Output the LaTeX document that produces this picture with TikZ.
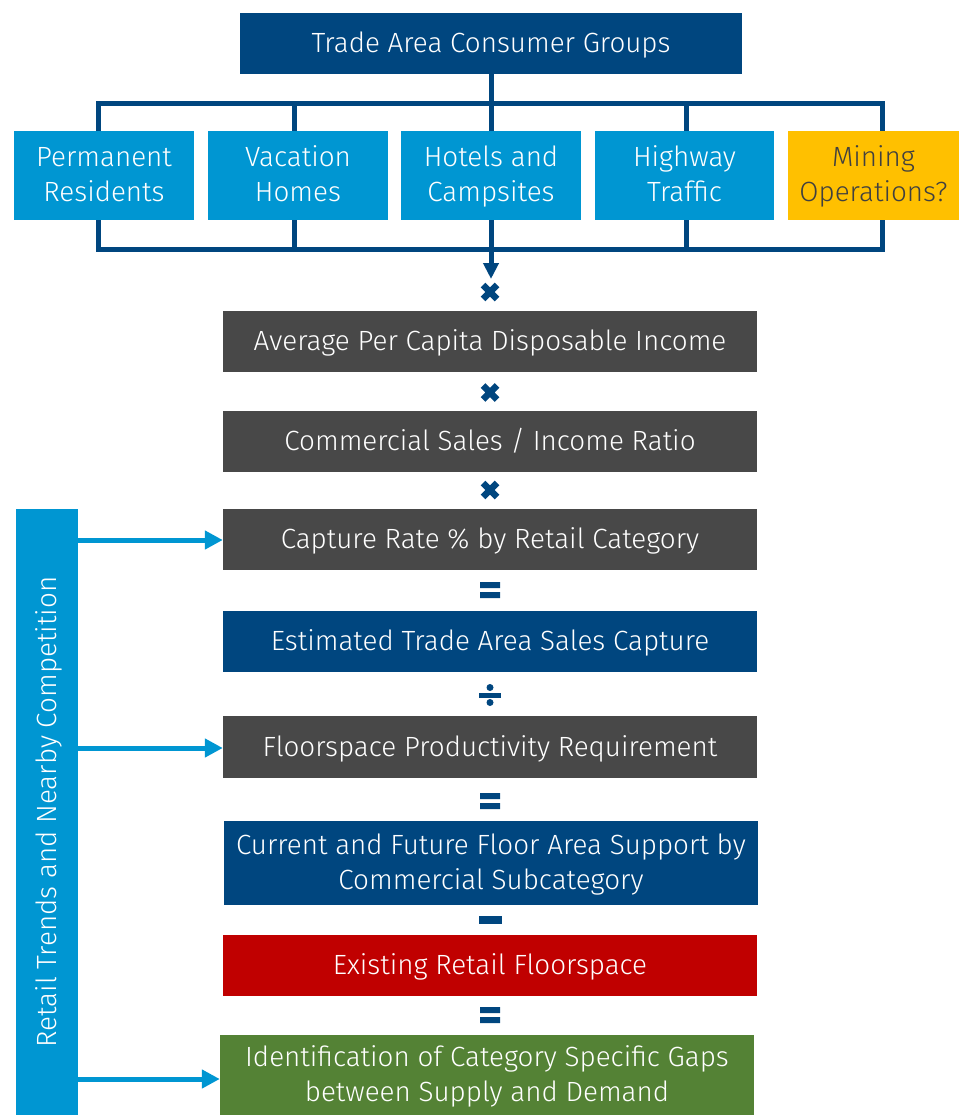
\documentclass[tikz,border=0pt]{standalone}
\usepackage{fontspec}
\setmainfont{Fira Sans}[UprightFont={* Light}]
\usetikzlibrary{arrows.meta}
\definecolor{navy}{RGB}{0,70,127}
\definecolor{sky}{RGB}{0,150,210}
\definecolor{slate}{RGB}{72,72,72}
\definecolor{crimson}{RGB}{192,0,0}
\definecolor{leaf}{RGB}{84,130,53}
\definecolor{amber}{RGB}{255,192,0}
\definecolor{inkgray}{RGB}{64,64,64}
% fixed line box so every label sits at the same height
\newcommand\lnstrut{\rule[-6pt]{0pt}{30pt}}
\tikzset{
  box/.style={draw=none, text=white, align=center, inner sep=0pt,
    font=\fontsize{27.8}{35}\selectfont},
  groupbox/.style={box, fill=sky, minimum width=180pt, minimum height=89pt},
  stepbox/.style={box, minimum width=534pt, minimum height=61pt},
  link/.style={draw=navy, line width=5pt},
  feed/.style={draw=sky, line width=5pt, -{Triangle[length=18pt,width=18pt]}},
  timesop/.pic={\draw[navy, line width=6.5pt] (-7,-7) -- (7,7) (-7,7) -- (7,-7);},
  eqop/.pic={\fill[navy] (-10,-8) rectangle (10,-2) (-10,2) rectangle (10,8);},
  divop/.pic={\fill[navy] (-11,-2.5) rectangle (11,2.5);
              \fill[navy] (0,-7.5) circle (3.5pt) (0,7.5) circle (3.5pt);},
  minusop/.pic={\fill[navy] (-11.5,-4) rectangle (11.5,4);}
}
\begin{document}
\begin{tikzpicture}[x=1pt,y=-1pt]
\useasboundingbox (0,0) rectangle (959,1115);

% consumer groups
\node[box, fill=navy, minimum width=502pt, minimum height=61pt] (top) at (491,43.5) {\lnstrut Trade Area Consumer Groups};
\node[groupbox] (pr) at (104,175.5) {\lnstrut Permanent\\\lnstrut Residents};
\node[groupbox] (vh) at (298,175.5) {\lnstrut Vacation\\\lnstrut Homes};
\node[groupbox] (hc) at (491,175.5) {\lnstrut Hotels and\\\lnstrut Campsites};
\node[groupbox, minimum width=179pt] (ht) at (684.5,175.5) {\lnstrut Highway\\\lnstrut Traffic};
\node[groupbox, fill=amber, text=inkgray, minimum width=171pt] (mo) at (873.5,175.5) {\lnstrut Mining\\\lnstrut Operations?};

% collector frame around the groups
\coordinate (tl) at (98,104);
\coordinate (tr) at (882,104);
\coordinate (bl) at (98,249);
\coordinate (br) at (882,249);
\coordinate (tm) at (491,104);
\coordinate (bm) at (491,249);
\coordinate (v2t) at (294,104);
\coordinate (v4t) at (686,104);
\coordinate (v2b) at (294,249);
\coordinate (v4b) at (686,249);
\draw[link] (top.south) -- (tm);
\draw[link, line cap=rect] (tl) -- (tr);
\draw[link, line cap=rect] (bl) -- (br);
\foreach \c in {tl,v2t,tm,v4t,tr} \draw[link] (\c) -- (\c |- pr.north);
\foreach \c in {bl,v2b,bm,v4b,br} \draw[link] (\c) -- (\c |- pr.south);
\coordinate (arrowend) at (491,279);
\draw[link, -{Triangle[length=16pt,width=15pt]}] (bm) -- (arrowend);

% calculation chain
\node[stepbox, fill=slate] (b1) at (490,341) {\lnstrut Average Per Capita Disposable Income};
\node[stepbox, fill=slate] (b2) at (490,441.5) {\lnstrut Commercial Sales / Income Ratio};
\node[stepbox, fill=slate] (b3) at (490,539.5) {\lnstrut Capture Rate \% by Retail Category};
\node[stepbox, fill=navy] (b4) at (490,641.5) {\lnstrut Estimated Trade Area Sales Capture};
\node[stepbox, fill=slate, minimum height=62pt] (b5) at (490,747) {\lnstrut Floorspace Productivity Requirement};
\node[stepbox, fill=navy, minimum height=84pt] (b6) at (491,863) {\lnstrut Current and Future Floor Area Support by\\\lnstrut Commercial Subcategory};
\node[stepbox, fill=crimson] (b7) at (490,965.5) {\lnstrut Existing Retail Floorspace};
\node[stepbox, fill=leaf, minimum height=80pt] (b8) at (487,1075) {\lnstrut Identification of Category Specific Gaps\\\lnstrut between Supply and Demand};

% operators between the steps
\pic at (490,292) {timesop};
\pic at (490,392.5) {timesop};
\pic at (490,490) {timesop};
\pic at (490,590) {eqop};
\pic at (490,695) {divop};
\pic at (490,801) {eqop};
\pic at (490,920) {minusop};
\pic at (490,1015) {eqop};

% side influence bar
\node[box, fill=sky, minimum width=606pt, minimum height=62pt, rotate=90] (side) at (47,812) {\lnstrut Retail Trends and Nearby Competition};
\coordinate (s1) at (78,540);
\coordinate (s2) at (78,748);
\coordinate (s3) at (78,1079);
\draw[feed] (s1) -- (b3.west |- s1);
\draw[feed] (s2) -- (b5.west |- s2);
\draw[feed] (s3) -- (b8.west |- s3);
\end{tikzpicture}
\end{document}
